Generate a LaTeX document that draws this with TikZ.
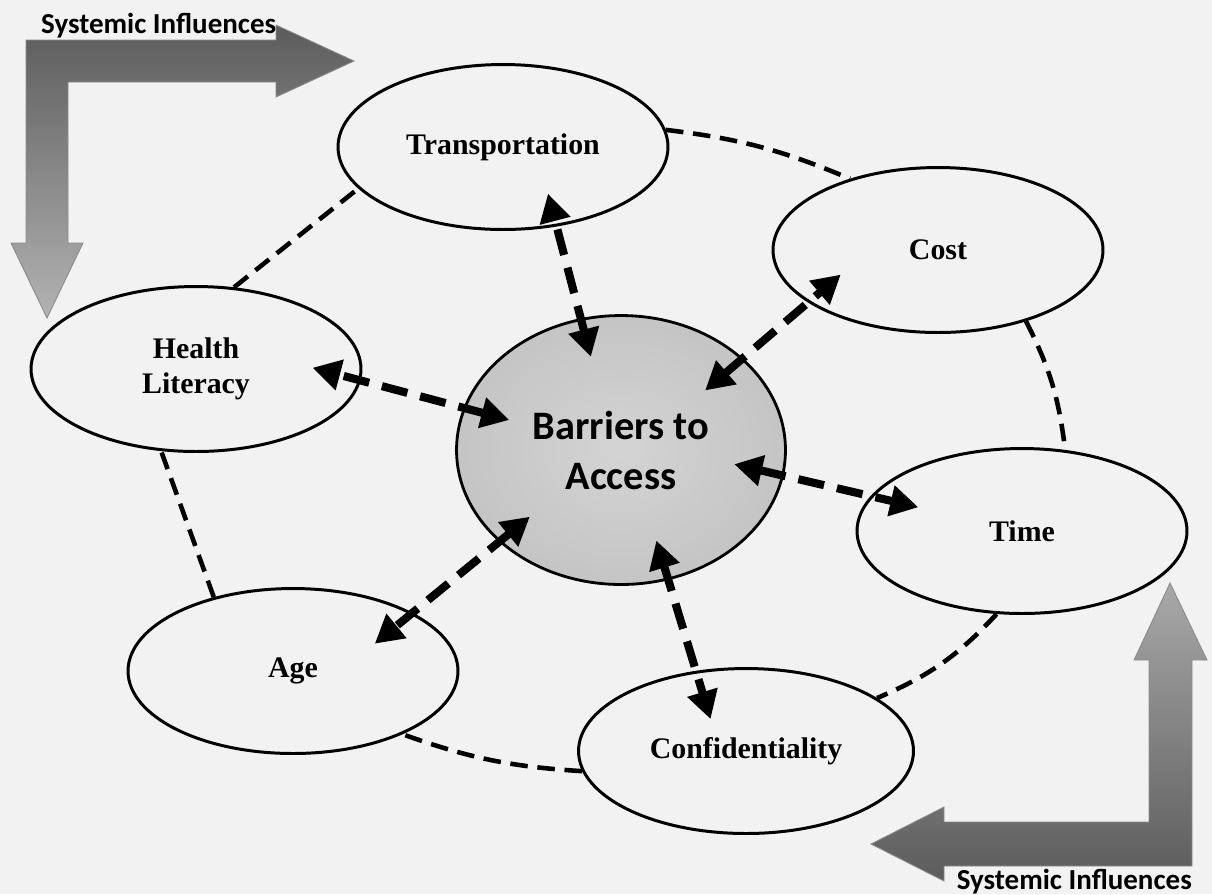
\documentclass[tikz,border=0pt]{standalone}
\usepackage{fontspec}
\newfontfamily\factorfont{Liberation Serif}
\newfontfamily\headfont{Carlito}
\usepackage{tikz}
\usetikzlibrary{shapes.geometric}
\usetikzlibrary{arrows.meta}

% soft grey fill of the central node
\pgfdeclareradialshading{barriershade}{\pgfpoint{0bp}{0bp}}{%
  color(0bp)=(black!17); color(25bp)=(black!23); color(50bp)=(black!37)}

\tikzset{
  factor/.style={ellipse, draw, line width=1.7pt, inner sep=0pt,
    minimum width=6.6cm, minimum height=3.3cm, align=center,
    font=\factorfont\bfseries\fontsize{17}{20}\selectfont},
  link/.style={line width=2.6pt, dash pattern=on 10pt off 5.5pt},
  barrier/.style={line width=4.6pt, dash pattern=on 15pt off 7.5pt,
    {Triangle[length=16pt,width=17pt]}-{Triangle[length=16pt,width=17pt]}},
  influence/.style={draw=black!45, line width=0.5pt},
  influencelabel/.style={font=\headfont\bfseries\fontsize{16.5}{20}\selectfont}
}

\begin{document}
\begin{tikzpicture}[x=0.02cm, y=-0.02cm]
      \fill [black!5] (0,0) rectangle (1212,894);
      \useasboundingbox (0,0) rectangle (1212,894);

      % the two bent arrows in the corners
      \shade [influence, top color=black!64, bottom color=black!30]
      (26,40) -- (276,40) -- (276,25) -- (354,61) -- (276,97) -- (276,82)
      -- (68,82) -- (68,243) -- (83,243) -- (47,318) -- (11,243) -- (26,243) -- cycle;
      \shade [influence, top color=black!34, bottom color=black!64]
      (1192,866) -- (944,866) -- (944,881) -- (871,844) -- (944,807) -- (944,822)
      -- (1149,822) -- (1149,660) -- (1134,660) -- (1170,583) -- (1207,660) -- (1192,660) -- cycle;

      \node [influencelabel, anchor=base west] (sysa) at (35,33) {Systemic Influences};
      \node [influencelabel, anchor=base east] (sysb) at (1198,889) {Systemic Influences};

      \node [factor] (trans) at (503,147) {Transportation};
      \node [factor] (cost) at (938,250) {Cost};
      \node [factor] (health) at (196,369) {Health\\Literacy};
      \node [factor] (time) at (1022,531) {Time};
      \node [factor] (age) at (293,671) {Age};
      \node [factor, minimum width=6.7cm] (conf) at (746,751) {Confidentiality};

      \node [ellipse, draw, line width=1.6pt, inner sep=0pt,
      minimum width=6.58cm, minimum height=5.38cm,
      shading=barriershade, align=center,
      font=\headfont\bfseries\fontsize{23}{28.5}\selectfont]
      (barriers) at (621,450) {Barriers to\\Access};

      % ring of links between the factors
      \draw [link] (health.65) -- (trans.196);
      \draw [link] (trans.6) to [bend left=8] (cost.141);
      \draw [link] (cost.-39) to [bend left=10] (time.62);
      \draw [link] (time.-107) to [bend left=12] (conf.22);
      \draw [link] (conf.187) to [bend left=8] (age.-30);
      \draw [link] (age.137) -- (health.-113);

      % two-way arrows out of the centre
      \draw [barrier, shorten <=-0.8cm, shorten >=-0.68cm] (barriers.107) -- (trans.-56);
      \draw [barrier, shorten <=-1.0cm, shorten >=-0.86cm] (barriers.37) -- (cost.202);
      \draw [barrier, shorten <=-0.95cm, shorten >=-1.0cm] (barriers.165) -- (health.-4);
      \draw [barrier, shorten <=-1.02cm, shorten >=-0.98cm] (barriers.-9) -- (time.167);
      \draw [barrier, shorten <=-0.8cm, shorten >=-0.98cm] (barriers.-143) -- (age.26);
      \draw [barrier, shorten <=-0.83cm, shorten >=-1.01cm] (barriers.-70) -- (conf.122);
\end{tikzpicture}
\end{document}
